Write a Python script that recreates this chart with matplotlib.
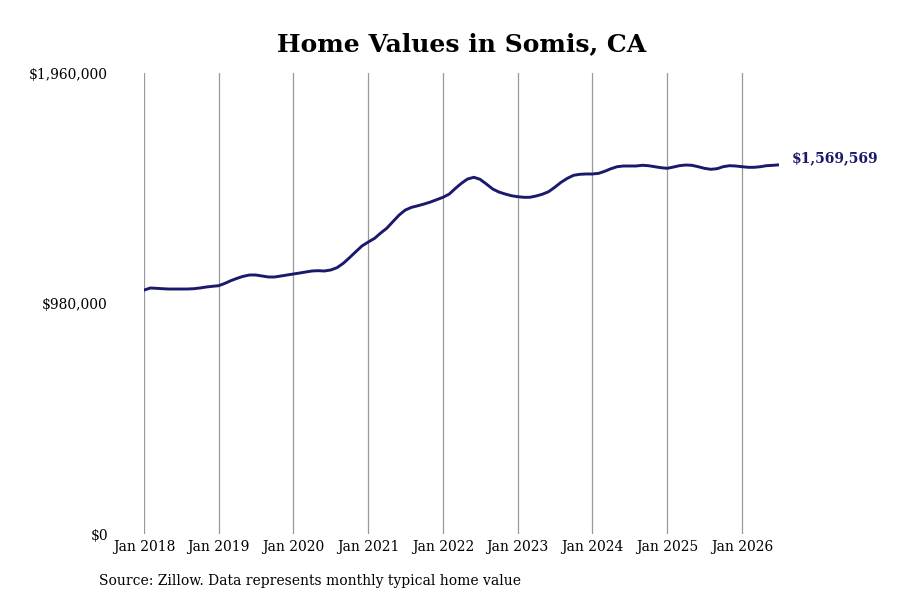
import matplotlib
matplotlib.use("Agg")
import matplotlib.pyplot as plt
import pandas as pd
import datetime as dt

# Monthly typical home values, Jan 2018 .. Jul 2026
start_month = "2018-01-01"
values = [
    # 2018
    1037000, 1045900, 1044600, 1042900, 1041600, 1041600, 1041600, 1041600, 1042900, 1045900, 1050100, 1053100,
    # 2019
    1055700, 1065900, 1076900, 1087100, 1095600, 1101200, 1101200, 1096900, 1092700, 1092700, 1096900, 1101200,
    # 2020
    1105400, 1109700, 1113900, 1118200, 1119500, 1118200, 1122400, 1132200, 1150900, 1174700, 1200200, 1224500,
    # 2021
    1241500, 1257200, 1278500, 1299700, 1327800, 1356300, 1377500, 1389000, 1395800, 1403000, 1411500, 1421300,
    # 2022
    1431500, 1445500, 1468100, 1491000, 1509300, 1516600, 1508000, 1488100, 1466800, 1454000, 1445500, 1438300,
    # 2023
    1434100, 1431500, 1431500, 1437000, 1444300, 1455300, 1474000, 1495300, 1512300, 1525000, 1529300, 1530600,
    # 2024
    1530600, 1533500, 1542000, 1553100, 1561600, 1564600, 1564600, 1564600, 1567600, 1565900, 1561600, 1557400,
    # 2025
    1554800, 1560300, 1565900, 1568800, 1567600, 1561600, 1554800, 1550600, 1553100, 1561600, 1565900, 1564600,
    # 2026
    1561600, 1559000, 1559000, 1561600, 1565900, 1567500, 1569569,
]
yticks = [0, 980000, 1960000]
ytick_labels = ["$0", "$980,000", "$1,960,000"]
xtick_years = list(range(2018, 2027))
title = "Home Values in Somis, CA"
source = "Source: Zillow. Data represents monthly typical home value"
end_label = "$1,569,569"

navy = "#1b196b"
plt.rcParams['font.family'] = ['DejaVu Serif']

dates = pd.date_range(start_month, periods=len(values), freq="MS").to_pydatetime()

fig = plt.figure(figsize=(9, 6), dpi=100)
W, H = 900, 600
left, right, top, bottom = 144, 779, 73, 534
ax = fig.add_axes([left / W, 1 - bottom / H, (right - left) / W, (bottom - top) / H])

ax.plot(dates, values, color=navy, linewidth=2.1, solid_capstyle='round',
        solid_joinstyle='round', zorder=3)

ax.set_xlim(dates[0], dates[-1])
ax.set_ylim(0, 1960000)

xt = [dt.datetime(y, 1, 1) for y in xtick_years]
ax.set_xticks(xt)
ax.set_xticklabels([f"Jan {y}" for y in xtick_years], fontsize=10)
ax.set_yticks(yticks)
ax.set_yticklabels(ytick_labels, fontsize=10)
ax.tick_params(axis='x', length=0, pad=4)
ax.tick_params(axis='y', length=0, pad=26)

ax.grid(axis='x', color='#999999', linewidth=0.9)
ax.grid(axis='y', visible=False)
ax.set_axisbelow(True)
for s in ax.spines.values():
    s.set_visible(False)

ax.annotate(end_label, xy=(dates[-1], values[-1]), xytext=(9.5, 5),
            textcoords='offset points', ha='left', va='center',
            fontsize=10, fontweight='bold', color=navy)

fig.text((left + right) / 2 / W, 1 - 44 / H, title, ha='center', va='center',
         fontsize=18, fontweight='bold')
fig.text(99 / W, 1 - 581 / H, source, ha='left', va='center', fontsize=10)

fig.savefig("out.png", dpi=100)
